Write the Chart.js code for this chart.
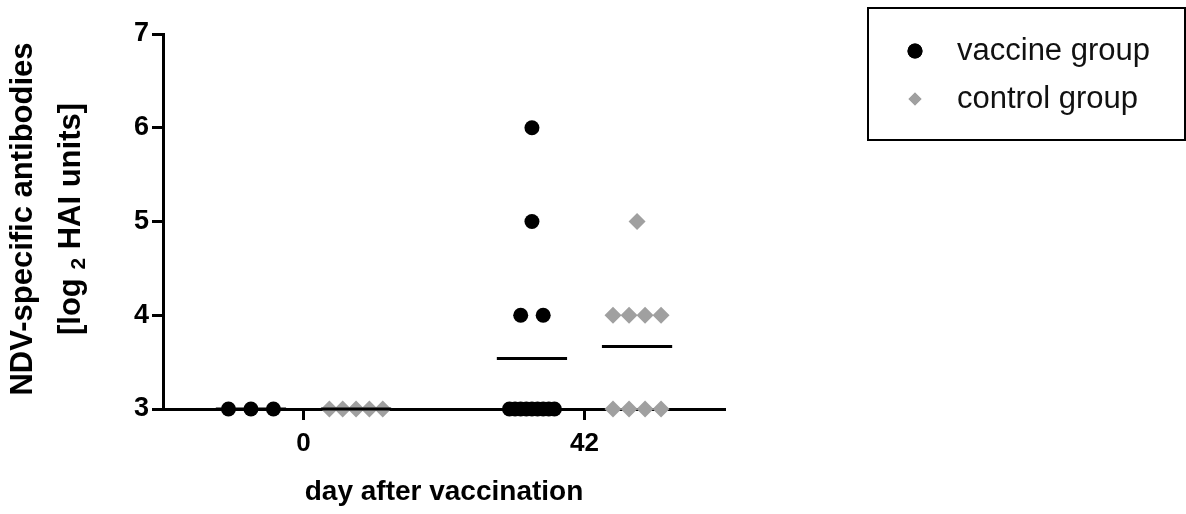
<!DOCTYPE html>
<html>
<head>
<meta charset="utf-8">
<script src="https://cdn.jsdelivr.net/npm/chart.js@4/dist/chart.umd.min.js"></script>
<style>
  html, body { margin: 0; padding: 0; background: #fff; }
  #wrap { width: 1186px; height: 514px; }
</style>
</head>
<body>
<div id="wrap"><canvas id="hai"></canvas></div>
<script>
// x categories (days after vaccination)
const dayLabels = ['0', '42'];
// log2 HAI titres per bird, one array per day
const vaccineDay0 = [3, 3, 3];
const vaccineDay42 = [6, 5, 4, 4, 3, 3, 3, 3, 3, 3, 3, 3, 3];
const controlDay0 = [3, 3, 3, 3, 3];
const controlDay42 = [5, 4, 4, 4, 4, 3, 3, 3, 3];
const yTicks = [3, 4, 5, 6, 7];

const FONT = '"Liberation Sans", Arial, sans-serif';

// spread identical values sideways around the group centre (like a column scatter)
function spread(values, centre, gap, maxSpan) {
    const byVal = {};
    values.forEach(v => { (byVal[v] = byVal[v] || []).push(v); });
    const pts = [];
    Object.keys(byVal).forEach(k => {
        const n = byVal[k].length;
        const step = n > 1 ? Math.min(gap, maxSpan / (n - 1)) : 0;
        for (let i = 0; i < n; i++) {
            pts.push({ x: centre + (i - (n - 1) / 2) * step, y: +k });
        }
    });
    return pts;
}
const mean = a => a.reduce((s, v) => s + v, 0) / a.length;
function meanLine(values, centre) {
    const m = mean(values);
    return [{ x: centre - 0.125, y: m }, { x: centre + 0.125, y: m }];
}

const shift = 0.187;
const vacc = [vaccineDay0, vaccineDay42];
const ctrl = [controlDay0, controlDay42];

const datasets = [];
vacc.forEach((vals, i) => datasets.push({
    label: 'mean', data: meanLine(vals, i - shift), showLine: true,
    borderColor: '#000', borderWidth: 3, pointRadius: 0, clip: false
}));
ctrl.forEach((vals, i) => datasets.push({
    label: 'mean', data: meanLine(vals, i + shift), showLine: true,
    borderColor: '#000', borderWidth: 3, pointRadius: 0, clip: false
}));
datasets.push({
    label: 'vaccine group',
    data: vacc.flatMap((vals, i) => spread(vals, i - shift, 0.08, 0.16)),
    pointStyle: 'circle', pointRadius: 7.5, backgroundColor: '#000',
    borderWidth: 0, clip: false
});
datasets.push({
    label: 'control group',
    data: ctrl.flatMap((vals, i) => spread(vals, i + shift, 0.057, 0.19)),
    pointStyle: 'rectRot', pointRadius: 8.5, backgroundColor: '#a0a0a0',
    borderWidth: 0, clip: false
});

// y title with subscript, and boxed legend
const extras = {
    id: 'extras',
    afterDraw(chart) {
        const c = chart.ctx;
        c.save();
        c.fillStyle = '#000';
        c.translate(0, 219);
        c.rotate(-Math.PI / 2);
        c.textBaseline = 'middle';
        c.textAlign = 'center';
        c.font = 'bold 31px ' + FONT;
        c.fillText('NDV-specific antibodies', 0, 23);
        const a = '[log ', b = '2', d = ' HAI units]';
        const big = 'bold 31px ' + FONT, small = 'bold 21px ' + FONT;
        c.font = big; const wa = c.measureText(a).width, wd = c.measureText(d).width;
        c.font = small; const wb = c.measureText(b).width;
        let x = -(wa + wb + wd) / 2;
        c.textAlign = 'left';
        c.font = big; c.fillText(a, x, 71); x += wa;
        c.font = small; c.fillText(b, x, 79); x += wb;
        c.font = big; c.fillText(d, x, 71);
        c.restore();

        // legend
        c.save();
        c.strokeStyle = '#000';
        c.lineWidth = 2;
        c.strokeRect(868, 8, 317, 132);
        const items = chart.data.datasets.filter(ds => ds.label !== 'mean');
        items.forEach((ds, i) => {
            const y = 51 + i * 48;
            c.fillStyle = ds.backgroundColor;
            Chart.helpers.drawPoint(c, {
                pointStyle: ds.pointStyle, radius: i === 0 ? 7.5 : 6.5, rotation: 0, borderWidth: 0
            }, 915, y);
            c.fill();
            c.fillStyle = '#111';
            c.font = '31px ' + FONT;
            c.textBaseline = 'middle';
            c.textAlign = 'left';
            c.fillText(ds.label, 957, y);
        });
        c.restore();
    }
};

new Chart(document.getElementById('hai'), {
    type: 'scatter',
    data: { datasets: datasets },
    options: {
        responsive: true,
        maintainAspectRatio: false,
        animation: false,
        events: [],
        layout: { padding: { top: 34, right: 461, bottom: 0, left: 0 } },
        plugins: { legend: { display: false }, tooltip: { enabled: false } },
        scales: {
            x: {
                type: 'linear', min: -0.5, max: 1.5,
                afterBuildTicks: scale => { scale.ticks = dayLabels.map((l, i) => ({ value: i })); },
                afterFit: scale => { scale.height = 105; },
                ticks: {
                    callback: (v) => dayLabels[v] ?? '',
                    color: '#000', font: { family: FONT, size: 26, weight: 'bold' },
                    padding: 8, maxRotation: 0
                },
                grid: { drawOnChartArea: false, tickLength: 11, tickWidth: 3, tickColor: '#000' },
                border: { color: '#000', width: 3 },
                title: {
                    display: true, text: 'day after vaccination', color: '#000',
                    font: { family: FONT, size: 28, weight: 'bold' },
                    padding: { top: 0, bottom: 5 }
                }
            },
            y: {
                min: 3, max: 7,
                afterBuildTicks: scale => { scale.ticks = yTicks.map(v => ({ value: v })); },
                afterFit: scale => { scale.width = 163; },
                ticks: {
                    color: '#000', font: { family: FONT, size: 27, weight: 'bold' }, padding: 3
                },
                grid: { drawOnChartArea: false, tickLength: 11, tickWidth: 3, tickColor: '#000' },
                border: { color: '#000', width: 3 }
            }
        }
    },
    plugins: [extras]
});
</script>
</body>
</html>
